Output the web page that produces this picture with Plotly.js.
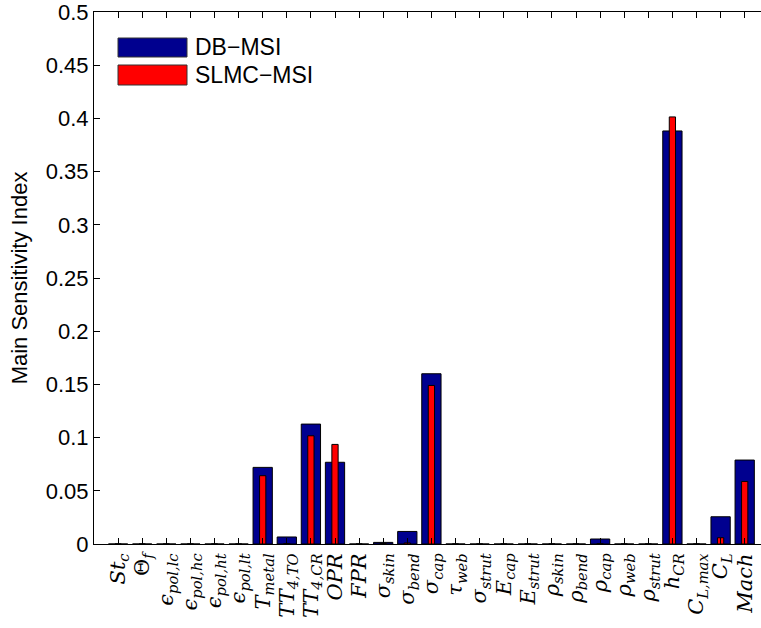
<!DOCTYPE html>
<html>
<head>
<meta charset="utf-8">
<script src="https://cdn.plot.ly/plotly-3.0.1.min.js"></script>
<style>html,body{margin:0;padding:0;background:#fff;}#chart{width:761px;height:628px;}</style>
</head>
<body>
<div id="chart"></div>
<script>
const categories = [
  "<i>St</i><sub><i>c</i></sub>",
  "Θ<sub><i>f</i></sub>",
  "<i>ϵ</i><sub><i>pol,lc</i></sub>",
  "<i>ϵ</i><sub><i>pol,hc</i></sub>",
  "<i>ϵ</i><sub><i>pol,ht</i></sub>",
  "<i>ϵ</i><sub><i>pol,lt</i></sub>",
  "<i>T</i><sub><i>metal</i></sub>",
  "<i>TT</i><sub><i>4,TO</i></sub>",
  "<i>TT</i><sub><i>4,CR</i></sub>",
  "<i>OPR</i>",
  "<i>FPR</i>",
  "<i>σ</i><sub><i>skin</i></sub>",
  "<i>σ</i><sub><i>bend</i></sub>",
  "<i>σ</i><sub><i>cap</i></sub>",
  "<i>τ</i><sub><i>web</i></sub>",
  "<i>σ</i><sub><i>strut</i></sub>",
  "<i>E</i><sub><i>cap</i></sub>",
  "<i>E</i><sub><i>strut</i></sub>",
  "<i>ρ</i><sub><i>skin</i></sub>",
  "<i>ρ</i><sub><i>bend</i></sub>",
  "<i>ρ</i><sub><i>cap</i></sub>",
  "<i>ρ</i><sub><i>web</i></sub>",
  "<i>ρ</i><sub><i>strut</i></sub>",
  "<i>h</i><sub><i>CR</i></sub>",
  "<i>C</i><sub><i>L,max</i></sub>",
  "<i>C</i><sub><i>L</i></sub>",
  "<i>Mach</i>"
];
const dbMSI = [0,0,0,0,0,0,0.0720,0.0066,0.1127,0.0768,0,0.0015,0.0118,0.160,0,0,0,0,0,0,0.0047,0,0,0.3882,0,0.0256,0.0789];
const slmcMSI = [0,0,0,0,0,0,0.0642,0.0004,0.1017,0.0936,0,0.0004,0.0010,0.149,0,0,0,0,0,0,0.0004,0,0,0.4014,0,0.0059,0.0588];
const seriesNames = ["DB\u2212MSI", "SLMC\u2212MSI"];
const yTicks = [0,0.05,0.1,0.15,0.2,0.25,0.3,0.35,0.4,0.45,0.5];

const xs = categories.map((_, i) => i + 1);

const W = 761, H = 628;
const mL = 94, mT = 12, mB = 84, mR = 0;
const pw = W - mL - mR, ph = H - mT - mB;
const unit = 24.1;
function px(x){ return (x - mL) / pw; }
function py(y){ return (H - mB - y) / ph; }

const sans = 'Liberation Sans, Arial, Helvetica, sans-serif';

const traces = [
  {type:'bar', x: xs, y: dbMSI, name: seriesNames[0], width: 0.8,
   marker:{color:'#00008F', line:{color:'#000', width:1}}, showlegend:false},
  {type:'bar', x: xs, y: slmcMSI, name: seriesNames[1], width: 0.26,
   marker:{color:'#FF0000', line:{color:'#000', width:1}}, showlegend:false}
];

const shapes = [
  {type:'rect', xref:'paper', yref:'paper', x0:px(118), x1:px(187), y0:py(57), y1:py(38),
   fillcolor:'#00008F', line:{color:'#333', width:1}},
  {type:'rect', xref:'paper', yref:'paper', x0:px(118), x1:px(187), y0:py(85), y1:py(65),
   fillcolor:'#FF0000', line:{color:'#333', width:1}}
];
const annotations = [
  {xref:'paper', yref:'paper', x:px(193), y:py(47.5), xanchor:'left', yanchor:'middle',
   text: seriesNames[0], showarrow:false, font:{family:sans, size:23, color:'#000'}},
  {xref:'paper', yref:'paper', x:px(193), y:py(75), xanchor:'left', yanchor:'middle',
   text: seriesNames[1], showarrow:false, font:{family:sans, size:23, color:'#000'}}
];

const layout = {
  width: W, height: H,
  margin:{l:mL, r:mR, t:mT, b:mB, pad:0},
  paper_bgcolor:'#fff', plot_bgcolor:'#fff',
  barmode:'overlay', bargap:0,
  showlegend:false,
  xaxis:{
    range:[0, pw/unit], tickvals: xs, ticktext: categories, tickangle:-90,
    ticks:'inside', ticklen:6, tickcolor:'#000', tickwidth:1,
    showline:true, linecolor:'#000', linewidth:1, mirror:'ticks',
    showgrid:false, zeroline:false, fixedrange:true, ticklabeloverflow:'allow',
    tickfont:{family:'DejaVu Serif, Liberation Serif, serif', size:21, color:'#000'}
  },
  yaxis:{
    range:[0,0.5], tickvals: yTicks, ticktext: yTicks.map(v => String(v)),
    ticks:'inside', ticklen:6, tickcolor:'#000', tickwidth:1,
    showline:true, linecolor:'#000', linewidth:1,
    showgrid:false, zeroline:false, ticklabeloverflow:'allow',
    tickfont:{family:sans, size:22, color:'#000'},
    title:{text:'Main Sensitivity Index', font:{family:sans, size:22, color:'#000'}, standoff:12}
  },
  shapes: shapes,
  annotations: annotations
};

Plotly.newPlot('chart', traces, layout, {displayModeBar:false, staticPlot:true});
</script>
</body>
</html>
